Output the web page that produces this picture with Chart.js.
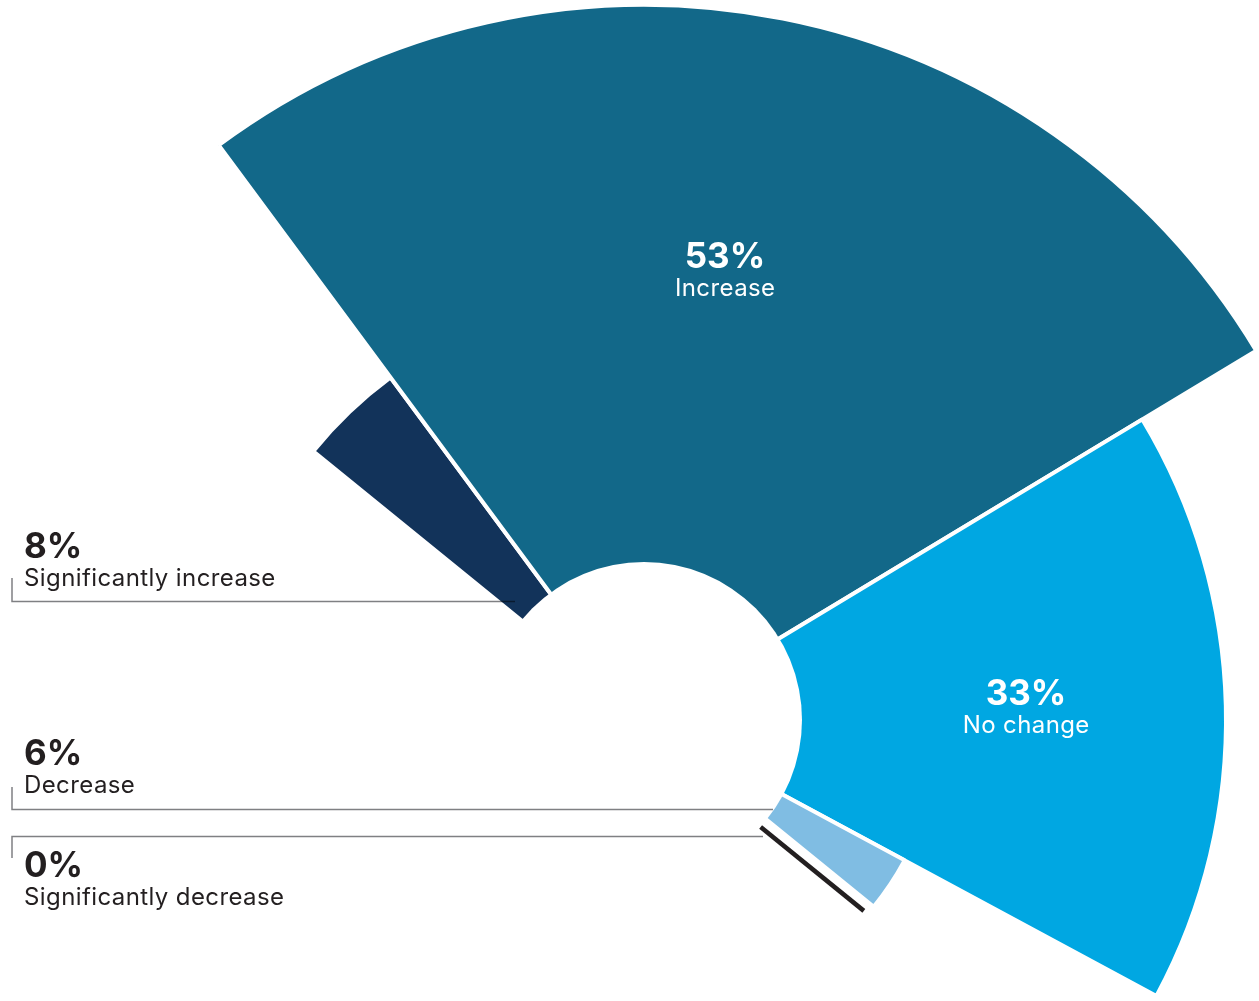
<!DOCTYPE html>
<html>
<head>
<meta charset="utf-8">
<title>Expected change</title>
<script src="https://cdn.jsdelivr.net/npm/chart.js@4.4.1/dist/chart.umd.min.js"></script>
<style>
  html, body { margin: 0; padding: 0; background: #fff; overflow: hidden; width: 1259px; height: 1001px; }
  #fan { position: absolute; left: -71px; top: 5px; }
</style>
</head>
<body>
<canvas id="fan" width="1430" height="1430"></canvas>
<script>
// Answers, in the order they sweep round the fan
const categories = ['Significantly increase', 'Increase', 'No change', 'Decrease', 'Significantly decrease'];
const shares = [8, 53, 33, 6, 0];              // percent of respondents
const reach = [59.6, 100, 81.4, 41.4, 40.7];   // wedge length, longest = 100
const palette = ['#12335A', '#126889', '#00A7E2', '#80BDE3', '#231F20'];

const SWEEP = 180;     // the whole fan spans half a turn
const START = -50.9;   // degrees clockwise from 12 o'clock
const HOLE = 158;      // radius of the empty middle, px
const OFF = { x: 71, y: -5 };  // page position -> canvas position

const total = shares.reduce((a, b) => a + b, 0);
const P = (x, y) => [x + OFF.x, y + OFF.y];

// where each caption sits (page px); side captions hang off a leader rule
const captions = [
  { x: 24,   y: 558, align: 'left',   ink: '#231F20', leader: [[12, 578], [12, 601.5], [515, 601.5]] },
  { x: 725,  y: 268, align: 'center', ink: '#ffffff' },
  { x: 1026, y: 705, align: 'center', ink: '#ffffff' },
  { x: 24,   y: 765, align: 'left',   ink: '#231F20', leader: [[12, 787], [12, 809.5], [773, 809.5]] },
  { x: 24,   y: 877, align: 'left',   ink: '#231F20', leader: [[12, 858], [12, 836.5], [763, 836.5]] }
];

const fanDecor = {
  id: 'fanDecor',
  afterInit(chart) {
    // a 0% answer takes no room in the sweep
    shares.forEach((s, i) => { if (s === 0) chart.toggleDataVisibility(i); });
  },
  afterDatasetsDraw(chart) {
    const ctx = chart.ctx;
    const r = chart.scales.r;
    const cx = r.xCenter, cy = r.yCenter;
    const meta = chart.getDatasetMeta(0);
    ctx.save();
    ctx.fillStyle = '#fff';
    ctx.beginPath();
    ctx.arc(cx, cy, HOLE, 0, Math.PI * 2);
    ctx.fill();
    // empty answers are marked by a thin rule at their place in the sweep
    meta.data.forEach((arc, i) => {
      if (shares[i] !== 0) return;
      const a = arc.startAngle;
      const ux = Math.cos(a), uy = Math.sin(a);
      const nx = -uy, ny = ux, gap = 9.5;
      const len = r.getDistanceFromCenterForValue(reach[i]);
      ctx.strokeStyle = palette[i];
      ctx.lineWidth = 4.6;
      ctx.lineCap = 'butt';
      ctx.beginPath();
      ctx.moveTo(cx + ux * HOLE + nx * gap, cy + uy * HOLE + ny * gap);
      ctx.lineTo(cx + ux * len + nx * gap, cy + uy * len + ny * gap);
      ctx.stroke();
    });
    ctx.restore();
  },
  afterDraw(chart) {
    const ctx = chart.ctx;
    ctx.save();
    // leader rules
    ctx.globalCompositeOperation = 'multiply';
    ctx.strokeStyle = '#7f8083';
    ctx.lineWidth = 1.5;
    captions.forEach(c => {
      if (!c.leader) return;
      ctx.beginPath();
      c.leader.forEach(([x, y], k) => {
        const [px, py] = P(x, y);
        if (k === 0) ctx.moveTo(px, py); else ctx.lineTo(px, py);
      });
      ctx.stroke();
    });
    ctx.globalCompositeOperation = 'source-over';
    // captions
    captions.forEach((c, i) => {
      const [px, py] = P(c.x, c.y);
      ctx.fillStyle = c.ink;
      ctx.textAlign = c.align;
      ctx.textBaseline = 'alphabetic';
      ctx.letterSpacing = '0px';
      ctx.font = '700 35px Inter';
      ctx.fillText(shares[i] + '%', px, py);
      ctx.letterSpacing = '0.4px';
      ctx.font = '400 24px Inter';
      ctx.fillText(categories[i], px + (c.align === 'center' ? 0.2 : 0), py + 27.5);
    });
    ctx.restore();
  }
};

new Chart(document.getElementById('fan'), {
  type: 'polarArea',
  data: {
    labels: categories,
    datasets: [{
      data: reach,
      backgroundColor: palette,
      borderColor: '#ffffff',
      borderWidth: 4,
      angle: c => shares[c.dataIndex] / total * SWEEP
    }]
  },
  options: {
    responsive: false,
    animation: false,
    events: [],
    layout: { padding: 0 },
    plugins: { legend: { display: false }, tooltip: { enabled: false } },
    scales: {
      r: {
        display: false,
        min: 0,
        max: 100,
        startAngle: START,
        ticks: { display: false },
        grid: { display: false },
        angleLines: { display: false },
        pointLabels: { display: false }
      }
    }
  },
  plugins: [fanDecor]
});
</script>
</body>
</html>
